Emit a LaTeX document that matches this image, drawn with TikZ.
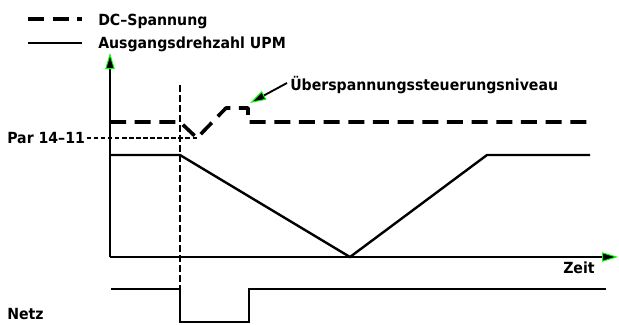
\documentclass[tikz,border=0pt]{standalone}
\usepackage{fontspec}
\setmainfont{DejaVu Sans}[FakeStretch=0.92]
\usetikzlibrary{arrows.meta}
\begin{document}
\begin{tikzpicture}[x=0.75pt,y=-0.75pt,
  lbl/.style={anchor=base west, inner sep=0pt, font=\fontsize{11.5}{13}\selectfont\bfseries},
  dcline/.style={line width=2.7pt, dash pattern=on 12pt off 6.5pt, line join=round},
  speed/.style={line width=1.8pt, line join=miter},
  vdash/.style={line width=0.9pt, dash pattern=on 5pt off 2.5pt},
  pdash/.style={line width=0.9pt, dash pattern=on 3.5pt off 1.8pt},
  gtip/.style={-{Triangle[length=12pt,width=7pt,color=green,fill=black,line width=0.7pt]}}
]
\useasboundingbox (0,0) rectangle (619,325);

% legend
\coordinate (l1a) at (28,19); \coordinate (l1b) at (82,19);
\coordinate (l2a) at (28,43); \coordinate (l2b) at (82,43);
\draw[dcline] (l1a) -- (l1b);
\draw[speed] (l2a) -- (l2b);
\node[lbl] (dc) at (98,25) {DC–Spannung};
\node[lbl] (upm) at (98,48) {Ausgangsdrehzahl UPM};

% axes
\coordinate (o) at (110,257);
\coordinate (ytop) at (110,53);
\coordinate (xend) at (618,257);
\draw[speed,gtip] (o) -- (ytop);
\draw[speed,gtip] (o) -- (xend);
\node[lbl] (zeit) at (563,273) {Zeit};

% vertical event marker
\coordinate (v1) at (180,85); \coordinate (v2) at (180,289);
\draw[vdash] (v1) -- (v2);

% DC voltage
\coordinate (d0) at (110,122);
\coordinate (d1) at (180,122);
\coordinate (dip) at (197,138);
\coordinate (d3) at (226,108);
\coordinate (d4) at (248,108);
\coordinate (d5) at (248,122);
\coordinate (d6) at (590,122);
\draw[dcline] (d0) -- (d1) -- (dip) -- (d3) -- (d4) -- (d5) -- (d6);

% Par 14-11
\node[lbl] (par) at (7,143) {Par 14–11};
\draw[pdash] ([xshift=1pt]par.east |- dip) -- (dip);

% speed
\coordinate (s0) at (110,155);
\coordinate (s1) at (180,155);
\coordinate (s2) at (350,257);
\coordinate (s3) at (487,155);
\coordinate (s4) at (590,155);
\draw[speed] (s0) -- (s1) -- (s2) -- (s3) -- (s4);

% overvoltage label
\node[lbl] (ov) at (290,90) {Überspannungssteuerungsniveau};
\coordinate (ova) at (287,83);
\coordinate (ovt) at (250,103);
\draw[line width=1.4pt,gtip] (ova) -- (ovt);

% mains
\node[lbl] (netz) at (7,319) {Netz};
\coordinate (n0) at (111,289);
\coordinate (n1) at (180,289);
\coordinate (n2) at (180,322);
\coordinate (n3) at (249,322);
\coordinate (n4) at (249,289);
\coordinate (n5) at (606,289);
\draw[speed] (n0) -- (n1) -- (n2) -- (n3) -- (n4) -- (n5);
\end{tikzpicture}
\end{document}
